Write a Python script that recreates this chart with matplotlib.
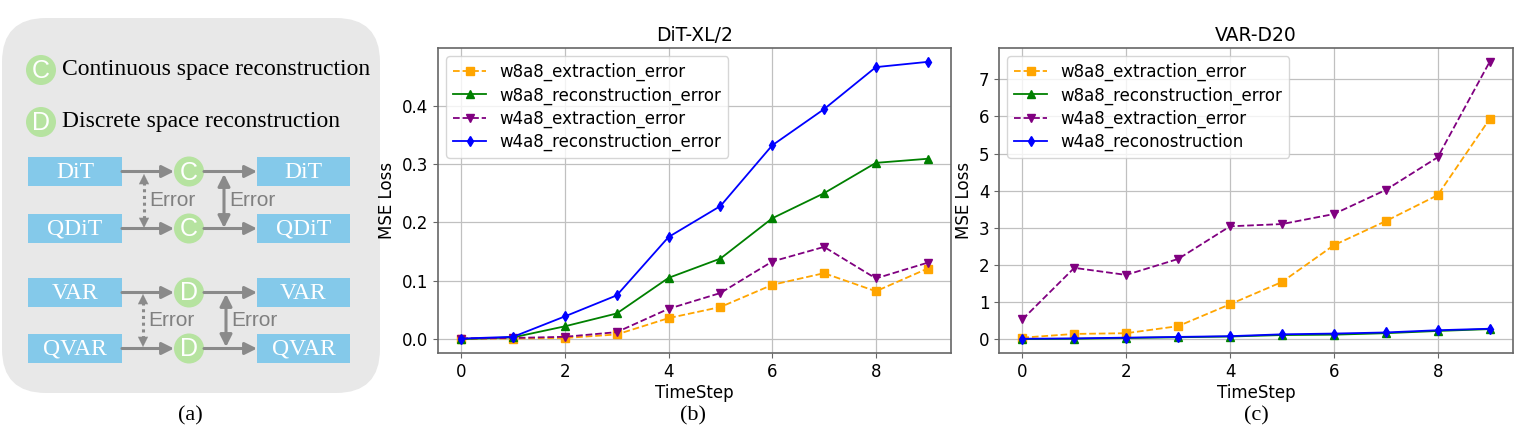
import matplotlib
matplotlib.use("Agg")
import matplotlib.pyplot as plt
from matplotlib.patches import FancyBboxPatch, Circle, Rectangle

# ---------------- data ----------------
timesteps = list(range(10))

series_labels_dit = [
    "w8a8_extraction_error",
    "w8a8_reconstruction_error",
    "w4a8_extraction_error",
    "w4a8_reconstruction_error",
]
series_labels_var = [
    "w8a8_extraction_error",
    "w8a8_reconstruction_error",
    "w4a8_extraction_error",
    "w4a8_reconostruction",
]

dit_w8a8_ext = [0.001, 0.001, 0.002, 0.008, 0.036, 0.055, 0.093, 0.113, 0.082, 0.121]
dit_w8a8_rec = [0.000, 0.003, 0.022, 0.044, 0.105, 0.138, 0.207, 0.250, 0.302, 0.309]
dit_w4a8_ext = [0.001, 0.002, 0.004, 0.012, 0.052, 0.079, 0.133, 0.158, 0.104, 0.131]
dit_w4a8_rec = [0.001, 0.004, 0.039, 0.075, 0.175, 0.228, 0.332, 0.394, 0.466, 0.475]

var_w8a8_ext = [0.04, 0.14, 0.16, 0.35, 0.94, 1.54, 2.53, 3.18, 3.88, 5.93]
var_w8a8_rec = [0.00, 0.01, 0.03, 0.05, 0.07, 0.11, 0.12, 0.16, 0.22, 0.27]
var_w4a8_ext = [0.53, 1.92, 1.73, 2.16, 3.04, 3.10, 3.37, 4.02, 4.90, 7.47]
var_w4a8_rec = [0.01, 0.02, 0.04, 0.06, 0.08, 0.13, 0.15, 0.18, 0.24, 0.28]

# ---------------- styling ----------------
W, H = 1522, 447
STYLES = [
    dict(color="orange", ls="--", marker="s"),
    dict(color="green", ls="-", marker="^"),
    dict(color="purple", ls="--", marker="v"),
    dict(color="blue", ls="-", marker="d"),
]
SERIF = ["Liberation Serif", "DejaVu Serif"]
SANS = ["Liberation Sans", "DejaVu Sans"]
BOX_BLUE = "#84c9ea"
CIRC_GREEN = "#b6e3a0"
ARROW_GRAY = "#8a8a8a"

fig = plt.figure(figsize=(W / 100, H / 100), dpi=100)

# ---------------- panel (a): diagram, drawn in pixel coords ----------------
ax_d = fig.add_axes([0, 0, 1, 1])
ax_d.set_xlim(0, W)
ax_d.set_ylim(H, 0)
ax_d.axis("off")

ax_d.add_patch(FancyBboxPatch((2, 18), 378, 375,
                              boxstyle="round,pad=0,rounding_size=44",
                              fc="#e8e8e8", ec="none"))


def circ(x, y, letter):
    ax_d.add_patch(Circle((x, y), 15, fc=CIRC_GREEN, ec="none"))
    ax_d.text(x, y + 1, letter, color="white", fontsize=18, family=SANS,
              ha="center", va="center")


def box(x0, x1, y0, y1, label):
    ax_d.add_patch(Rectangle((x0, y0), x1 - x0, y1 - y0, fc=BOX_BLUE, ec="none"))
    ax_d.text((x0 + x1) / 2, (y0 + y1) / 2 + 1, label, color="white",
              fontsize=17, family=SERIF, ha="center", va="center")


def arrow(x0, x1, y):
    ax_d.annotate("", xy=(x1, y), xytext=(x0, y),
                  arrowprops=dict(arrowstyle="-|>", color=ARROW_GRAY, lw=2.2,
                                  mutation_scale=18, shrinkA=0, shrinkB=0))


def err_arrow(x, y0, y1, dotted):
    if dotted:
        ax_d.plot([x, x], [y0 + 8, y1 - 8], color=ARROW_GRAY, lw=2.2, ls=(0, (1, 1.2)))
        for a, b in ((y0 + 9, y0), (y1 - 9, y1)):
            ax_d.annotate("", xy=(x, b), xytext=(x, a),
                          arrowprops=dict(arrowstyle="-|>", color=ARROW_GRAY, lw=0.1,
                                          mutation_scale=18, shrinkA=0, shrinkB=0))
    else:
        ax_d.annotate("", xy=(x, y1), xytext=(x, y0),
                      arrowprops=dict(arrowstyle="<|-|>", color=ARROW_GRAY, lw=2.2,
                                      mutation_scale=18, shrinkA=0, shrinkB=0))
    ax_d.text(x + 5, (y0 + y1) / 2, "Error", color="#808080", fontsize=15,
              family=SANS, ha="left", va="center")


circ(41, 70, "C")
ax_d.text(62, 70, "Continuous space reconstruction", fontsize=17, family=SERIF,
          ha="left", va="center")
circ(41, 122, "D")
ax_d.text(62, 122, "Discrete space reconstruction", fontsize=17, family=SERIF,
          ha="left", va="center")

rows = [(157, 186, "DiT", "C"), (214, 243, "QDiT", "C"),
        (278, 307, "VAR", "D"), (334, 363, "QVAR", "D")]
for y0, y1, name, letter in rows:
    yc = (y0 + y1) / 2
    box(28, 122, y0, y1, name)
    box(257, 350, y0, y1, name)
    arrow(122, 174, yc)
    arrow(204, 257, yc)
    circ(189, yc, letter)

err_arrow(144, 174, 228, dotted=True)
err_arrow(224, 174, 228, dotted=False)
err_arrow(143, 294, 347, dotted=True)
err_arrow(226, 294, 347, dotted=False)

# ---------------- panels (b) and (c): line charts ----------------
ax_b = fig.add_axes([438 / W, (H - 353) / H, 513 / W, 305 / H])
ax_c = fig.add_axes([999 / W, (H - 353) / H, 514 / W, 305 / H])

panels = [
    (ax_b, "DiT-XL/2", series_labels_dit,
     [dit_w8a8_ext, dit_w8a8_rec, dit_w4a8_ext, dit_w4a8_rec]),
    (ax_c, "VAR-D20", series_labels_var,
     [var_w8a8_ext, var_w8a8_rec, var_w4a8_ext, var_w4a8_rec]),
]
for ax, title, labels, data in panels:
    for vals, lab, st in zip(data, labels, STYLES):
        ax.plot(timesteps, vals, color=st["color"], ls=st["ls"], marker=st["marker"],
                ms=5.5, lw=1.3, label=lab)
    ax.set_title(title, fontsize=13.5, pad=5)
    ax.set_xlabel("TimeStep", fontsize=12, labelpad=2)
    ax.set_ylabel("MSE Loss", fontsize=12)
    ax.tick_params(labelsize=12, color="#666666")
    ax.grid(True, color="#c0c0c0", lw=0.9)
    ax.set_axisbelow(True)
    for sp in ax.spines.values():
        sp.set_color("#666666")
        sp.set_linewidth(1.2)
    ax.legend(loc="upper left", fontsize=12, labelspacing=0.3, handlelength=2.0)

# sub-captions
for x, cap in ((190, "(a)"), (693, "(b)"), (1256, "(c)")):
    ax_d.text(x, 416, cap, fontsize=16, family=SERIF, ha="center", va="center")

fig.savefig("out.png", dpi=100)
